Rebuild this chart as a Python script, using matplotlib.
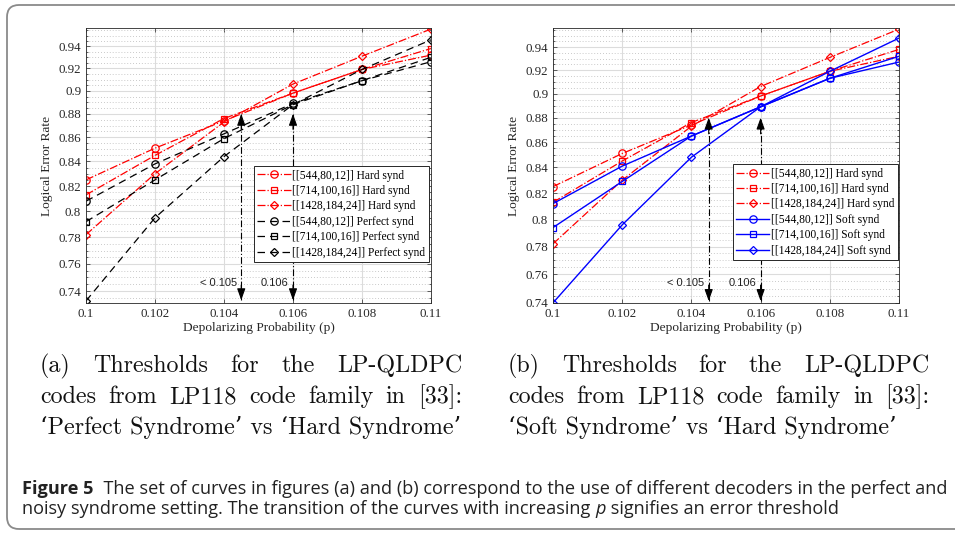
import numpy as np
import matplotlib
matplotlib.use("Agg")
import matplotlib.pyplot as plt
from matplotlib.ticker import FixedLocator, FixedFormatter, NullFormatter
from matplotlib.patches import FancyBboxPatch
from matplotlib.transforms import IdentityTransform

# ---------------- data ----------------
p_values = [0.1, 0.102, 0.104, 0.106, 0.108, 0.11]
x_tick_labels = ["0.1", "0.102", "0.104", "0.106", "0.108", "0.11"]
y_ticks = [0.74, 0.76, 0.78, 0.8, 0.82, 0.84, 0.86, 0.88, 0.9, 0.92, 0.94]
y_tick_labels = ["0.74", "0.76", "0.78", "0.8", "0.82", "0.84", "0.86", "0.88", "0.9", "0.92", "0.94"]

codes = ["[[544,80,12]]", "[[714,100,16]]", "[[1428,184,24]]"]

hard_544 = [0.825, 0.851, 0.874, 0.898, 0.919, 0.932]
hard_714 = [0.813, 0.845, 0.876, 0.898, 0.919, 0.938]
hard_1428 = [0.782, 0.830, 0.873, 0.906, 0.931, 0.956]

perfect_544 = [0.808, 0.838, 0.863, 0.889, 0.909, 0.926]
perfect_714 = [0.792, 0.825, 0.859, 0.888, 0.909, 0.930]
perfect_1428 = [0.733, 0.795, 0.844, 0.888, 0.919, 0.946]

soft_544 = [0.812, 0.841, 0.865, 0.889, 0.913, 0.927]
soft_714 = [0.794, 0.829, 0.865, 0.889, 0.913, 0.932]
soft_1428 = [0.740, 0.796, 0.848, 0.889, 0.919, 0.948]

threshold_p = [0.1045, 0.106]
threshold_text = ["< 0.105", "0.106"]
threshold_top = 0.880

caption_a = ["(a) Thresholds for the LP-QLDPC",
             "codes from LP118 code family in [33]:",
             "\u2018Perfect Syndrome\u2019 vs \u2018Hard Syndrome\u2019"]
caption_b = ["(b) Thresholds for the LP-QLDPC",
             "codes from LP118 code family in [33]:",
             "\u2018Soft Syndrome\u2019 vs \u2018Hard Syndrome\u2019"]

# ---------------- figure ----------------
W, H = 955, 533
SERIF = ["Liberation Serif", "DejaVu Serif"]
plt.rcParams["font.family"] = SERIF
fig = plt.figure(figsize=(W / 100, H / 100), dpi=100)
fig.patch.set_facecolor("white")


def px_axes(l, t, r, b):
    return fig.add_axes([l / W, 1 - b / H, (r - l) / W, (b - t) / H])


def style_axes(ax, ylo):
    ax.set_yscale("log")
    ax.set_xlim(p_values[0], p_values[-1])
    ax.set_ylim(ylo, 0.957)
    ax.set_xticks(p_values, labels=x_tick_labels, fontfamily=SERIF, fontsize=9.3, color="#262626")
    ax.set_yticks(y_ticks, labels=y_tick_labels, fontfamily=SERIF, fontsize=9.3, color="#262626")
    minors = [v for v in np.arange(0.730, 0.9601, 0.005) if min(abs(v - t) for t in y_ticks) > 1e-6]
    ax.yaxis.set_minor_locator(FixedLocator(minors))
    ax.yaxis.set_minor_formatter(NullFormatter())
    ax.grid(True, which="major", color="#dcdcdc", lw=0.8)
    ax.grid(True, which="minor", axis="y", color="#b8b8b8", ls=(0, (1, 2.5)), lw=0.6)
    ax.set_axisbelow(True)
    ax.tick_params(which="both", direction="in", top=True, right=True, color="#262626",
                   width=0.5, pad=3.5)
    ax.tick_params(which="major", length=3)
    ax.tick_params(which="minor", length=1.5)
    for s in ax.spines.values():
        s.set_color("#262626")
        s.set_linewidth(0.6)
    ax.set_xlabel("Depolarizing Probability (p)", fontsize=9.6, color="#262626", labelpad=1.5)
    ax.set_ylabel("Logical Error Rate", fontsize=9.6, color="#262626", labelpad=4)


def threshold_marks(ax, ybot):
    tr = ax.get_xaxis_transform()
    for xv, txt in zip(threshold_p, threshold_text):
        ax.plot([xv, xv], [ybot, threshold_top], color="black", ls=(0, (6, 2, 1, 2)), lw=0.8, zorder=4)
        ax.annotate("", xy=(xv, threshold_top), xytext=(xv, threshold_top * 0.985),
                    arrowprops=dict(arrowstyle="-|>,head_length=0.7,head_width=0.25", color="black",
                                    lw=0.8, shrinkA=0, shrinkB=0), zorder=5)
        ax.annotate("", xy=(xv, ybot), xytext=(xv, ybot * 1.015),
                    arrowprops=dict(arrowstyle="-|>,head_length=0.7,head_width=0.25", color="black",
                                    lw=0.8, shrinkA=0, shrinkB=0), zorder=5)
        ax.text(xv - 0.00012, 0.073, txt, transform=tr, ha="right", va="center",
                fontsize=8, family="Liberation Sans", color="#222222")


def plot_hard(ax):
    ax.plot(p_values, hard_544, color="red", ls="-.", lw=0.9, marker="o", ms=5.3, mfc="none", mew=0.9,
            label=codes[0] + " Hard synd")
    ax.plot(p_values, hard_714, color="red", ls="-.", lw=0.9, marker="s", ms=4.6, mfc="none", mew=0.9,
            label=codes[1] + " Hard synd")
    ax.plot(p_values, hard_1428, color="red", ls="-.", lw=0.9, marker="D", ms=4.5, mfc="none", mew=0.9,
            label=codes[2] + " Hard synd")


legend_kw = dict(fontsize=8.3, frameon=True, fancybox=False, edgecolor="#262626", framealpha=1,
                 handlelength=2.9, handletextpad=0.15, borderpad=0.3, labelspacing=0.3,
                 borderaxespad=0.0)

# ---- panel (a)
axA = px_axes(86, 28, 431, 303)
style_axes(axA, 0.7315)
plot_hard(axA)
axA.plot(p_values, perfect_544, color="black", ls=(0, (6, 4)), lw=0.9, marker="o", ms=5.3, mfc="none",
         mew=0.9, label=codes[0] + " Perfect synd")
axA.plot(p_values, perfect_714, color="black", ls=(0, (6, 4)), lw=0.9, marker="s", ms=4.6, mfc="none",
         mew=0.9, label=codes[1] + " Perfect synd")
axA.plot(p_values, perfect_1428, color="black", ls=(0, (6, 4)), lw=0.9, marker="D", ms=4.5, mfc="none",
         mew=0.9, label=codes[2] + " Perfect synd")
threshold_marks(axA, 0.7335)
legA = axA.legend(loc="upper right", bbox_to_anchor=(0.994, 0.498), **legend_kw)
legA.get_frame().set_linewidth(0.7)

# ---- panel (b)
axB = px_axes(553, 28, 899, 303)
style_axes(axB, 0.7399)
plot_hard(axB)
axB.plot(p_values, soft_544, color="#0000ff", ls="-", lw=1.0, marker="o", ms=5.3, mfc="none", mew=0.9,
         label=codes[0] + " Soft synd")
axB.plot(p_values, soft_714, color="#0000ff", ls="-", lw=1.0, marker="s", ms=4.6, mfc="none", mew=0.9,
         label=codes[1] + " Soft synd")
axB.plot(p_values, soft_1428, color="#0000ff", ls="-", lw=1.0, marker="D", ms=4.5, mfc="none", mew=0.9,
         label=codes[2] + " Soft synd")
threshold_marks(axB, 0.7413)
legB = axB.legend(loc="upper right", bbox_to_anchor=(0.997, 0.505), **legend_kw)
legB.get_frame().set_linewidth(0.7)

# ---------------- captions ----------------
renderer = fig.canvas.get_renderer()
ident = IdentityTransform()
cap_family = ["cmr10", "DejaVu Serif"]

# choose caption size so the natural last line of (a) fills the column width
probe = fig.text(0, 0, caption_a[2], transform=ident, fontsize=10, family=cap_family)
cap_serif_size = 10 * (462 - 40) / probe.get_window_extent(renderer).width
probe.remove()


def justified(lines, x0, x1, baselines, size):
    for i, (line, yb) in enumerate(zip(lines, baselines)):
        if i == len(lines) - 1:
            fig.text(x0, H - yb, line, transform=ident, fontsize=size, family=cap_family,
                     va="baseline", ha="left", color="#111111")
            continue
        words = line.split(" ")
        objs = [fig.text(0, H - yb, w, transform=ident, fontsize=size, family=cap_family,
                         va="baseline", ha="left", color="#111111") for w in words]
        widths = [o.get_window_extent(renderer).width for o in objs]
        gap = (x1 - x0 - sum(widths)) / (len(words) - 1)
        x = x0
        for o, w in zip(objs, widths):
            o.set_x(x)
            x += w + gap


justified(caption_a, 40, 462, [372, 403, 434], cap_serif_size)
justified(caption_b, 508, 929, [372, 403, 434], cap_serif_size)


def run_text(pieces, x0, yb, size):
    x = x0
    for txt, kw in pieces:
        o = fig.text(x, H - yb, txt, transform=ident, fontsize=size, va="baseline", ha="left",
                     family="Open Sans", color="#222222", **kw)
        x += o.get_window_extent(renderer).width
    return x


line1 = [("Figure 5", dict(weight="bold")),
         ("  The set of curves in figures (a) and (b) correspond to the use of different decoders in the perfect and", {})]
line2 = [("noisy syndrome setting. The transition of the curves with increasing ", {}),
         ("p", dict(style="italic")),
         (" signifies an error threshold", {})]

# fit the caption font so line 1 spans the page width
tmp = fig.text(0, 0, line1[0][0], transform=ident, fontsize=10, family="Open Sans", weight="bold")
tmp2 = fig.text(0, 0, line1[1][0], transform=ident, fontsize=10, family="Open Sans")
wsum = tmp.get_window_extent(renderer).width + tmp2.get_window_extent(renderer).width
tmp.remove()
tmp2.remove()
cap_size = 10 * (949 - 22) / wsum

run_text(line1, 22, 494, cap_size)
run_text(line2, 22, 514, cap_size)

# outer rounded frame
frame = FancyBboxPatch((7, H - 529), 975, 524, boxstyle="round,pad=0,rounding_size=12",
                       transform=ident, fill=False, edgecolor="#8a8a8a", lw=1.3)
fig.patches.append(frame)

fig.savefig("out.png", dpi=100)
